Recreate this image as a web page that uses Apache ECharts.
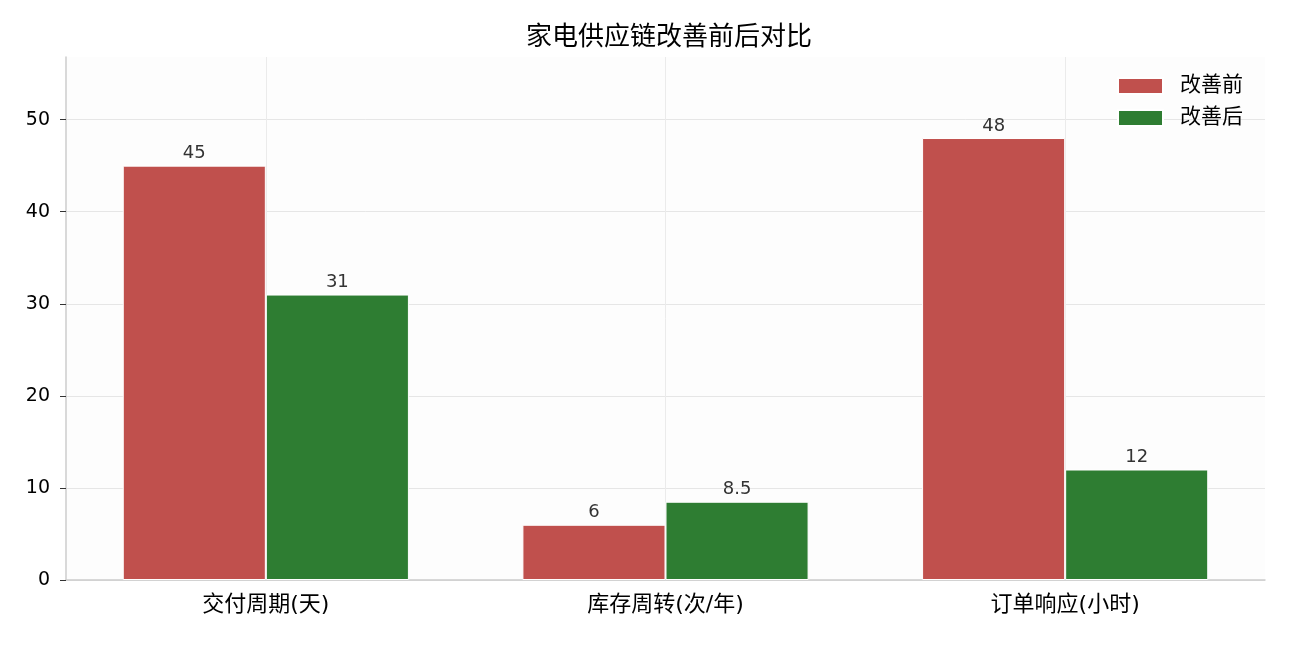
<!DOCTYPE html>
<html>
<head>
<meta charset="utf-8">
<script src="https://cdn.jsdelivr.net/npm/echarts@6/dist/echarts.min.js"></script>
<style>html,body{margin:0;padding:0;background:#fff}#c{width:1290px;height:645px}</style>
</head>
<body>
<div id="c"></div>
<script>
const categories = ['交付周期(天)', '库存周转(次/年)', '订单响应(小时)'];
const before = [45, 6, 48];
const after = [31, 8.5, 12];
const seriesNames = ['改善前', '改善后'];
const yTicks = [0, 10, 20, 30, 40, 50];

const font = '"DejaVu Sans", "Noto Sans CJK SC", sans-serif';
const chart = echarts.init(document.getElementById('c'));
chart.setOption({
  backgroundColor: '#ffffff',
  animation: false,
  title: {
    text: '家电供应链改善前后对比',
    left: 521, top: 17,
    textStyle: {fontFamily: '"Noto Sans CJK SC", sans-serif', fontSize: 26, fontWeight: 'normal', color: '#000'}
  },
  legend: {
    data: seriesNames,
    right: 42, top: 70,
    orient: 'vertical',
    itemWidth: 45, itemHeight: 16, itemGap: 10,
    icon: 'rect',
    textStyle: {fontFamily: font, fontSize: 21, lineHeight: 22, color: '#000', padding: [0,0,0,12]}
  },
  grid: {left: 66, right: 25, top: 57, bottom: 65, backgroundColor: '#fdfdfd', show: true, borderWidth: 0},
  xAxis: [{
    type: 'category', data: categories,
    axisLine: {lineStyle: {color: '#cccccc', width: 1.5}},
    axisTick: {alignWithLabel: true, length: 6, lineStyle: {color: '#333'}},
    axisLabel: {fontFamily: font, fontSize: 22, color: '#000', margin: 14},
    splitLine: {show: false}
  }, {
    type: 'category', data: ['', '', '', '', '', '', ''], boundaryGap: false,
    position: 'bottom', show: true,
    axisLine: {show: false}, axisTick: {show: false}, axisLabel: {show: false},
    splitLine: {show: true, interval: (i) => i % 2 === 1, lineStyle: {color: '#ebebeb', width: 1}}
  }],
  yAxis: {
    type: 'value', min: 0, max: 56.8, interval: 10,
    axisLine: {show: true, lineStyle: {color: '#cccccc', width: 1.5}},
    axisTick: {show: true, length: 6, customValues: yTicks, lineStyle: {color: '#333'}},
    axisLabel: {fontFamily: font, fontSize: 19, color: '#000', margin: 16, customValues: yTicks},
    splitLine: {lineStyle: {color: '#e6e6e6', width: 1}}
  },
  series: [{
    name: seriesNames[0], type: 'bar', data: before,
    barWidth: '35.8%', barGap: '0%',
    itemStyle: {color: '#c0504d', borderColor: '#ffffff', borderWidth: 1},
    label: {show: true, position: 'top', distance: 3, fontFamily: font, fontSize: 18, color: '#333'}
  }, {
    name: seriesNames[1], type: 'bar', data: after,
    barWidth: '35.8%', barGap: '0%',
    itemStyle: {color: '#2e7d32', borderColor: '#ffffff', borderWidth: 1},
    label: {show: true, position: 'top', distance: 3, fontFamily: font, fontSize: 18, color: '#333'}
  }]
});
</script>
</body>
</html>
